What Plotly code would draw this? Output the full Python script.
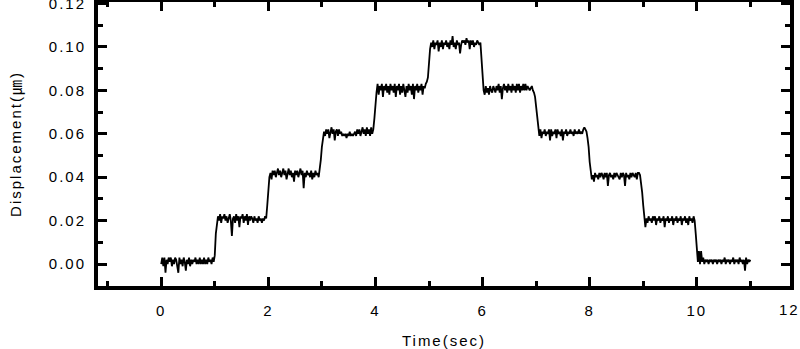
import plotly.graph_objects as go

# Sampling interval of the recorded trace (seconds)
SAMPLE_DT = 0.02

# Displacement, in nm; one list per second of recording (50 samples each)
seg_0_1 = [0, 3, -1, 3, -4, 2, 0, 3, 1, 3,
           -1, 2, 0, 3, 2, -1, -4, 3, 0, 2,
           -1, 3, 1, -3, 2, 0, 3, -1, 2, 0,
           2, 1, 3, 0, 2, 0, 3, 0, 2, 0,
           3, 0, 2, 0, 3, 1, 2, 0, 3, 1]
seg_1_2 = [4, 14, 19, 22, 20, 23, 19, 22, 21, 23,
           20, 22, 19, 22, 23, 20, 13, 21, 22, 19,
           23, 20, 22, 17, 22, 21, 23, 19, 22, 20,
           23, 18, 22, 20, 22, 21, 19, 22, 20, 21,
           19, 22, 20, 21, 19, 21, 20, 22, 21, 27]
seg_2_3 = [35, 40, 42, 39, 43, 41, 43, 40, 42, 44,
           41, 43, 40, 42, 44, 41, 43, 39, 42, 44,
           41, 43, 40, 42, 38, 43, 41, 43, 40, 42,
           44, 41, 43, 35, 42, 40, 43, 41, 42, 40,
           43, 39, 42, 40, 43, 41, 42, 40, 43, 48]
seg_3_4 = [54, 58, 61, 59, 62, 60, 62, 58, 61, 63,
           60, 62, 57, 61, 62, 59, 62, 60, 61, 59,
           60, 59, 60, 58, 60, 59, 61, 59, 60, 59,
           60, 61, 59, 62, 60, 62, 59, 61, 63, 60,
           62, 59, 63, 60, 62, 59, 63, 60, 62, 67]
seg_4_5 = [74, 79, 83, 78, 82, 80, 83, 77, 82, 80,
           83, 79, 82, 78, 83, 80, 82, 79, 83, 77,
           82, 80, 83, 78, 82, 79, 83, 80, 77, 82,
           79, 83, 80, 82, 78, 83, 76, 82, 80, 83,
           79, 82, 80, 83, 78, 82, 81, 83, 84, 86]
seg_5_6 = [93, 99, 102, 100, 103, 99, 102, 101, 103, 98,
           102, 100, 103, 99, 102, 101, 103, 100, 102, 99,
           103, 101, 105, 100, 102, 99, 103, 101, 102, 97,
           101, 103, 102, 103, 101, 104, 102, 103, 99, 103,
           101, 103, 100, 102, 101, 103, 102, 101, 102, 95]
seg_6_7 = [86, 80, 78, 82, 79, 81, 78, 82, 80, 79,
           82, 80, 79, 82, 80, 83, 79, 82, 76, 81,
           83, 80, 82, 79, 83, 80, 82, 79, 83, 80,
           82, 79, 83, 80, 83, 79, 82, 80, 83, 80,
           83, 80, 82, 81, 80, 81, 82, 80, 79, 77]
seg_7_8 = [72, 66, 61, 59, 62, 58, 61, 60, 62, 59,
           61, 60, 62, 57, 62, 59, 61, 60, 62, 58,
           62, 60, 61, 59, 62, 57, 61, 60, 62, 59,
           61, 60, 62, 60, 61, 59, 62, 60, 61, 60,
           62, 60, 61, 60, 62, 63, 62, 61, 58, 54]
seg_8_9 = [47, 42, 39, 41, 38, 42, 40, 41, 39, 42,
           40, 42, 41, 39, 42, 40, 42, 36, 41, 42,
           40, 41, 39, 42, 40, 42, 41, 40, 39, 42,
           40, 42, 41, 36, 42, 40, 41, 39, 42, 40,
           42, 41, 40, 42, 39, 42, 42, 41, 38, 33]
seg_9_10 = [27, 22, 17, 21, 19, 22, 20, 21, 19, 22,
            20, 22, 18, 21, 20, 22, 19, 21, 20, 22,
            17, 21, 20, 22, 19, 21, 20, 22, 18, 21,
            20, 22, 19, 21, 20, 22, 18, 21, 20, 22,
            19, 21, 18, 22, 20, 21, 19, 22, 20, 14]
seg_10_11 = [7, 1, 6, 0, 6, 1, 3, 0, 2, 1,
             2, 0, 2, 1, 2, 0, 2, 1, 2, 0,
             2, 1, 2, 0, 2, 1, 3, 0, 2, 1,
             2, 0, 2, 1, 3, 0, 2, 1, 2, 0,
             3, 1, 2, 0, 2, -3, 3, 0, 2, 1,
             2]

segments = [seg_0_1, seg_1_2, seg_2_3, seg_3_4, seg_4_5, seg_5_6,
            seg_6_7, seg_7_8, seg_8_9, seg_9_10, seg_10_11]

time_s = []
displacement_um = []
for start_sec, seg in enumerate(segments):
    for i, v in enumerate(seg):
        time_s.append(round(start_sec + i * SAMPLE_DT, 3))
        displacement_um.append(v / 1000.0)

x_range = [-1.18, 11.74]
x_tickvals = [0, 2, 4, 6, 8, 10]
x_edge_label = 12
y_tickvals = [0.00, 0.02, 0.04, 0.06, 0.08, 0.10, 0.12]

FONT = "Liberation Sans, Arial, Noto Sans CJK KR, sans-serif"
FONT_SIZE = 15

fig = go.Figure()
fig.add_trace(go.Scatter(
    x=time_s, y=displacement_um, mode="lines",
    line=dict(color="black", width=1.8),
    showlegend=False,
))

axis_common = dict(
    showline=True, linewidth=4, linecolor="black", mirror="ticks",
    ticks="inside", ticklen=9, tickwidth=2.5, tickcolor="black",
    showgrid=False, zeroline=False, automargin=False,
    ticklabeloverflow="allow",
    tickfont=dict(family=FONT, size=FONT_SIZE, color="black"),
)

fig.update_xaxes(
    range=x_range, tickvals=x_tickvals,
    minor=dict(dtick=1, tick0=0, ticks="inside", ticklen=5, tickwidth=2.5, tickcolor="black"),
    title=dict(text="Time(sec)", font=dict(family=FONT, size=FONT_SIZE, color="black"), standoff=20),
    ticklabelstandoff=8,
    **axis_common,
)
fig.update_yaxes(
    range=[-0.0101, 0.1207], tickvals=y_tickvals, tickformat=".2f",
    minor=dict(dtick=0.01, tick0=0, ticks="inside", ticklen=5, tickwidth=2.5, tickcolor="black"),
    title=dict(text="Displacement(㎛)", font=dict(family=FONT, size=FONT_SIZE, color="black"), standoff=33),
    ticklabelstandoff=5,
    **axis_common,
)

# The "12" tick label sits just beyond the right edge of the plotted range
edge_frac = (x_edge_label - x_range[0]) / (x_range[1] - x_range[0])
fig.add_annotation(x=min(edge_frac, 1.0), y=0, xref="paper", yref="paper",
                   xanchor="center", yanchor="top", xshift=-1, yshift=-13,
                   text=str(x_edge_label), showarrow=False,
                   font=dict(family=FONT, size=FONT_SIZE, color="black"))

fig.update_layout(
    width=800, height=349,
    margin=dict(l=98, r=10, t=2, b=63),
    paper_bgcolor="white", plot_bgcolor="white",
)

post = ("var s=document.createElement('style');"
        "s.innerHTML='svg text{letter-spacing:2px;}';"
        "document.head.appendChild(s);")
fig.write_html("out.html", post_script=post, config={"displayModeBar": False})
